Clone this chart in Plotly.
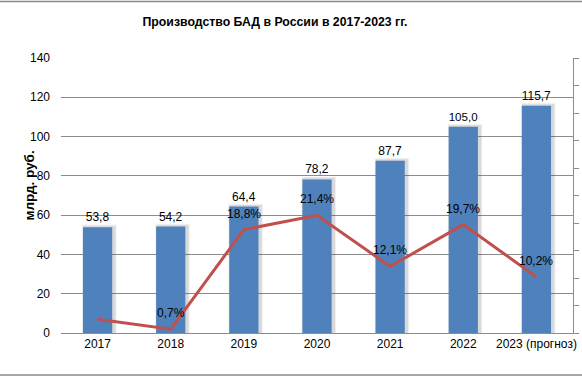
import plotly.graph_objects as go

categories = ["2017", "2018", "2019", "2020", "2021", "2022", "2023 (прогноз)"]
production = [53.8, 54.2, 64.4, 78.2, 87.7, 105.0, 115.7]
growth = [2.5, 0.7, 18.8, 21.4, 12.1, 19.7, 10.2]
growth_labeled = [False, True, True, True, True, True, True]
y_ticks = [0, 20, 40, 60, 80, 100, 120, 140]

W, H = 582, 377
L, R, T, B = 61, 9, 58, 44
pw, ph = W - L - R, H - T - B

FONT = "Liberation Sans, Arial, sans-serif"
BLUE = "#4F81BD"
RED = "#C0504D"
GRID = "#8C8C8C"

fig = go.Figure()

# soft shadow behind bars
for dx, extra, alpha in [(0.035, 1.4, 0.08), (0.02, 0.8, 0.13)]:
    fig.add_trace(go.Bar(
        x=categories, y=[v + extra for v in production],
        width=0.4 + 2 * dx, offset=-0.2 - dx + 0.025,
        marker=dict(color=f"rgba(60,60,60,{alpha})", line=dict(width=0)),
        hoverinfo="skip", showlegend=False,
    ))

fig.add_trace(go.Bar(
    x=categories, y=production, width=0.4, offset=-0.2,
    marker=dict(color=BLUE, line=dict(width=0)),
    texttemplate="%{y:.1f}", textposition="outside",
    textfont=dict(family=FONT, size=12, color="#000000"),
    cliponaxis=False, showlegend=False,
))

fig.add_trace(go.Scatter(
    x=categories, y=growth, yaxis="y2", mode="lines",
    line=dict(color=RED, width=3), showlegend=False,
))

for i, (g, lab) in enumerate(zip(growth, growth_labeled)):
    if lab:
        fig.add_annotation(
            x=i, y=g, xref="x", yref="y2",
            text=f"{g:.1f}%".replace(".", ","),
            showarrow=False, yshift=16,
            font=dict(family=FONT, size=12, color="#000000"),
        )

fig.add_annotation(
    text="<b>млрд. руб.</b>", textangle=-90,
    xref="paper", yref="paper",
    x=(19 - L) / pw, y=(H - B - 186) / ph,
    showarrow=False, font=dict(family=FONT, size=13.5, color="#000000"),
)

# outer border lines (top and bottom)
for yy in [1.5, 375.0]:
    fig.add_shape(type="line", xref="paper", yref="paper",
                  x0=-L / pw, x1=1 + R / pw,
                  y0=(H - B - yy) / ph, y1=(H - B - yy) / ph,
                  line=dict(color="#8A8A8A", width=1.5))

fig.update_layout(
    width=W, height=H,
    margin=dict(l=L, r=R, t=T, b=B, autoexpand=False),
    paper_bgcolor="white", plot_bgcolor="white",
    barmode="overlay", separators=", ",
    title=dict(text="<b>Производство БАД в России в 2017-2023 гг.</b>",
               x=275 / W, xanchor="center", xref="container",
               y=1 - 22 / H, yanchor="middle", yref="container",
               font=dict(family=FONT, size=12.3, color="#000000")),
    xaxis=dict(type="category", showgrid=False, showline=True,
               linecolor=GRID, linewidth=1, ticks="",
               tickfont=dict(family=FONT, size=12, color="#000000"),
               range=[-0.5, len(categories) - 0.5]),
    yaxis=dict(range=[0, 140], tickvals=y_ticks, showgrid=True,
               gridcolor=GRID, gridwidth=1, showline=False, zeroline=False,
               ticks="", ticklabelstandoff=10,
               tickfont=dict(family=FONT, size=12, color="#000000")),
    yaxis2=dict(range=[0, 50], dtick=5, overlaying="y", side="right",
                showgrid=False, showline=True, linecolor=GRID, linewidth=1,
                ticks="outside", ticklen=5, tickcolor=GRID,
                showticklabels=False, zeroline=False),
)

fig.write_html("out.html",
               config={"displayModeBar": False},
               post_script="document.body.style.margin='0';document.body.style.overflow='hidden';")
